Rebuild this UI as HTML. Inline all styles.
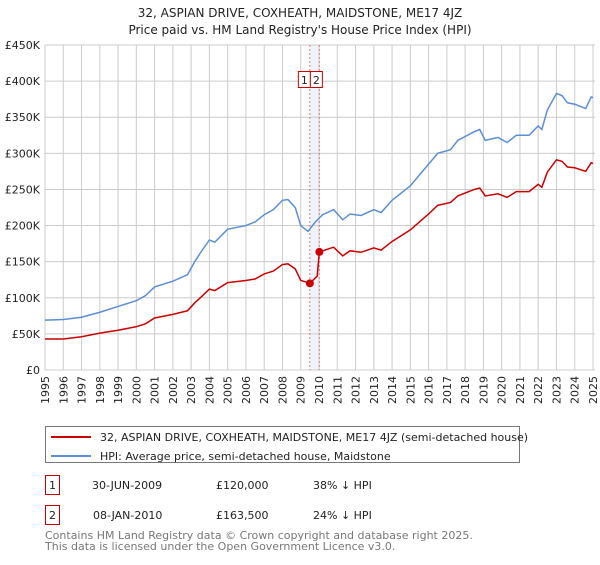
<!DOCTYPE html>
<html><head><meta charset="utf-8"><style>
body{margin:0;width:600px;height:560px;background:#fff;font-family:"Liberation Sans","DejaVu Sans",sans-serif;overflow:hidden}
svg text{font-family:"DejaVu Sans","Liberation Sans",sans-serif}
</style></head><body>
<svg id="c" width="600" height="560" xmlns="http://www.w3.org/2000/svg">
<text x="300" y="17" text-anchor="middle" font-size="12" fill="#222">32, ASPIAN DRIVE, COXHEATH, MAIDSTONE, ME17 4JZ</text>
<text x="300" y="34" text-anchor="middle" font-size="12" fill="#222">Price paid vs. HM Land Registry's House Price Index (HPI)</text>
<g id="grid"></g><g id="marks"></g><g id="axes"></g>
<g>
<rect x="45.5" y="426.5" width="474" height="36" fill="#fff" stroke="#777"/>
<line x1="51" y1="437" x2="91" y2="437" stroke="#cc0000" stroke-width="2"/>
<text x="100" y="441" font-size="11" fill="#222">32, ASPIAN DRIVE, COXHEATH, MAIDSTONE, ME17 4JZ (semi-detached house)</text>
<line x1="51" y1="456" x2="91" y2="456" stroke="#5b8ed6" stroke-width="2"/>
<text x="100" y="460" font-size="11" fill="#222">HPI: Average price, semi-detached house, Maidstone</text>
</g>
<g font-size="11" fill="#222">
<rect x="45.5" y="475.5" width="14" height="19" fill="#fff" stroke="#cc0000"/>
<text x="52.5" y="489" text-anchor="middle">1</text>
<text x="92" y="489">30-JUN-2009</text><text x="216" y="489">£120,000</text><text x="313" y="489">38% ↓ HPI</text>
<rect x="45.5" y="505.5" width="14" height="19" fill="#fff" stroke="#cc0000"/>
<text x="52.5" y="519" text-anchor="middle">2</text>
<text x="93" y="519">08-JAN-2010</text><text x="216" y="519">£163,500</text><text x="313" y="519">24% ↓ HPI</text>
</g>
<text x="45" y="539" font-size="11" fill="#777">Contains HM Land Registry data © Crown copyright and database right 2025.</text>
<text x="45" y="550" font-size="11" fill="#777">This data is licensed under the Open Government Licence v3.0.</text>
</svg>
<script>
const yTicks=[0,50000,100000,150000,200000,250000,300000,350000,400000,450000];
const yTickLabels=["£0","£50K","£100K","£150K","£200K","£250K","£300K","£350K","£400K","£450K"];
const years=[1995,1996,1997,1998,1999,2000,2001,2002,2003,2004,2005,2006,2007,2008,2009,2010,2011,2012,2013,2014,2015,2016,2017,2018,2019,2020,2021,2022,2023,2024,2025];
const hpiT=[1995,1996,1997,1998,1999,2000,2000.5,2001,2002,2002.8,2003.2,2003.5,2004,2004.3,2005,2006,2006.5,2007,2007.5,2008,2008.3,2008.7,2009,2009.4,2009.8,2010.2,2010.8,2011.3,2011.7,2012.3,2013,2013.4,2014,2015,2016,2016.5,2017.2,2017.6,2018.5,2018.8,2019.1,2019.8,2020.3,2020.8,2021.5,2022,2022.2,2022.5,2023,2023.3,2023.6,2024,2024.6,2024.9,2025];
const hpiV=[69,70,73,80,88,96,103,115,123,132,150,162,180,177,195,200,205,215,222,235,236,225,200,192,205,215,222,208,216,214,222,218,235,255,285,300,305,318,330,333,318,322,315,325,325,338,333,360,383,380,370,368,362,378,377];
const ppT=[1995,1996,1997,1998,1999,2000,2000.5,2001,2002,2002.8,2003.2,2003.5,2004,2004.3,2005,2006,2006.5,2007,2007.5,2008,2008.3,2008.7,2009,2009.5,2009.9,2010.02,2010.8,2011.3,2011.7,2012.3,2013,2013.4,2014,2015,2016,2016.5,2017.2,2017.6,2018.5,2018.8,2019.1,2019.8,2020.3,2020.8,2021.5,2022,2022.2,2022.5,2023,2023.3,2023.6,2024,2024.6,2024.9,2025];
const ppV=[43,43,46,51,55,60,64,72,77,82,93,100,112,110,121,124,126,133,137,146,147,140,124,120,130,163.5,170,158,165,163,169,166,178,194,216,228,232,241,250,252,241,244,239,247,247,257,253,274,291,289,281,280,275,287,286];
const saleT=[2009.5,2010.02];
const saleV=[120,163.5];
const saleLabels=["1","2"];
const NS="http://www.w3.org/2000/svg";
const X0=45,X1=593,Y0=370,Y1=45;
const x=t=>X0+(t-1995)/(2025-1995)*(X1-X0);
const y=v=>Y0-v/450000*(Y0-Y1);
const yk=v=>y(v*1000);
function mk(tag,attrs,parent){const e=document.createElementNS(NS,tag);for(const k in attrs)e.setAttribute(k,attrs[k]);parent.appendChild(e);return e;}
const grid=document.getElementById('grid'),marks=document.getElementById('marks'),axes=document.getElementById('axes');
let band=mk('rect',{x:x(saleT[0]),y:Y1,width:x(saleT[1])-x(saleT[0]),height:Y0-Y1,fill:'#eef3fc'},grid);


years.forEach(t=>{let l=mk('line',{x1:x(t),y1:Y1,x2:x(t),y2:Y0,stroke:'#cccccc','stroke-width':1},grid);


let tx=mk('text',{x:0,y:0,'font-size':11,fill:'#222','text-anchor':'end',transform:`translate(${x(t)+4},376) rotate(-90)`},axes);tx.textContent=t;

});
yTicks.forEach((v,i)=>{let l=mk('line',{x1:X0,y1:y(v),x2:X1+2,y2:y(v),stroke:'#cccccc','stroke-width':1},grid);


let tx=mk('text',{x:40,y:y(v)+4,'font-size':11,fill:'#222','text-anchor':'end'},axes);tx.textContent=yTickLabels[i];

});
saleT.forEach((t,i)=>{let l=mk('line',{x1:x(t),y1:Y1,x2:x(t),y2:Y0,stroke:'#ee7777','stroke-width':1,'stroke-dasharray':'2,2'},grid);


let bx=(i==0)?x(saleT[0])-12:x(saleT[0]);
let r=mk('rect',{x:bx+0.5,y:71.5,width:12,height:16,fill:'#fff',stroke:'#cc0000'},axes);


let tx=mk('text',{x:bx+6.5,y:84,'font-size':11,fill:'#222','text-anchor':'middle'},axes);tx.textContent=saleLabels[i];

});
let hp=mk('polyline',{points:hpiT.map((t,i)=>x(t)+','+yk(hpiV[i])).join(' '),fill:'none',stroke:'#5b8ed6','stroke-width':1.5},marks);


let pp=mk('polyline',{points:ppT.map((t,i)=>x(t)+','+yk(ppV[i])).join(' '),fill:'none',stroke:'#cc0000','stroke-width':1.5},marks);


saleT.forEach((t,i)=>{let c=mk('circle',{cx:x(t),cy:yk(saleV[i]),r:4,fill:'#cc0000'},marks);

});
</script>
</body></html>
